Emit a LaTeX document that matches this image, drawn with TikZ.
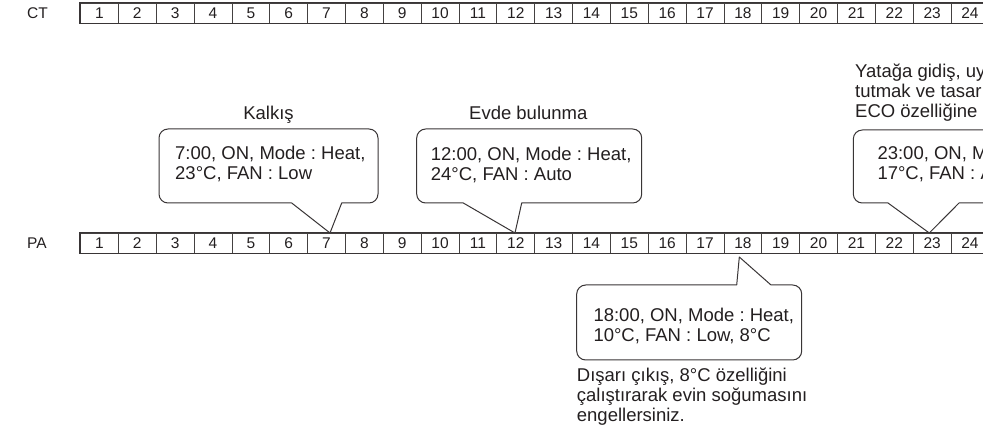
\documentclass[tikz,border=0pt]{standalone}
\usepackage{fontspec}
\setmainfont{Liberation Sans}
\usepackage{tikz}
\usetikzlibrary{positioning}
\usepackage{xcolor}
\definecolor{ink}{HTML}{231F20}
\frenchspacing
\tikzset{cellbox/.style={draw=ink!85,line width=.8pt,minimum width=37.85pt,minimum height=20pt,inner sep=0pt,font=\fontsize{15.5}{16}\selectfont,text=ink}, rowframe/.style={draw=ink!90,line width=1.4pt}, rowlabel/.style={anchor=west,inner sep=0pt,font=\fontsize{15.5}{16}\selectfont,text=ink},bubble/.style={draw=ink!90,line width=1pt,fill=white,line join=round},bubbletext/.style={anchor=base west,inner sep=0pt,align=left,font=\fontsize{18.5}{20}\selectfont,text=ink},title/.style={anchor=base,inner sep=0pt,font=\fontsize{18.5}{20}\selectfont,text=ink}}

\begin{document}
\begin{tikzpicture}[x=1pt,y=-1pt]
\useasboundingbox (0,0) rectangle (983,430);
\clip (0,0) rectangle (983,430);
% two hour rows
\foreach \i in {1,...,24}{
 \node[cellbox] (ct\i) at ({80.5+(\i-.5)*37.85},13) {\i};
 \node[cellbox] (pa\i) at ({80.5+(\i-.5)*37.85},243) {\i};
}
\draw[rowframe] (ct1.north west) rectangle (ct24.south east);
\draw[rowframe] (pa1.north west) rectangle (pa24.south east);
\node[rowlabel] (ct) at (27,13) {CT};
\node[rowlabel] (pa) at (27,243) {PA};
% bubbles above PA (text anchors sit on the last baseline)
\coordinate (tipA) at (330,233); \coordinate (tipB) at (515,233); \coordinate (tipC) at (929.3,233);
\draw[bubble] (tipA) -- (341.7,203) -- (360,203) [rounded corners=9pt] -- (378,203) -- (378,129) -- (159,129) -- (159,203) -- (225,203) [sharp corners] -- (291.7,203) -- cycle;
\draw[bubble] (tipB) -- (521.7,203) -- (580,203) [rounded corners=9pt] -- (641.7,203) -- (641.7,129) -- (416.7,129) -- (416.7,203) -- (440,203) [sharp corners] -- (463.3,203) -- cycle;
\draw[bubble] (tipC) -- (959,203) -- (1030,203) [rounded corners=9pt] -- (1100,203) -- (1100,130) -- (853.3,130) -- (853.3,203) -- (870,203) [sharp corners] -- (888,203) -- cycle;
\node[title] (kalkis) at (268.5,120) {Kalkış};
\node[title] (evde) at (528.3,120) {Evde bulunma};
\node[bubbletext] (heatA) at (175,180) {7:00, ON, Mode : Heat,\\23°C, FAN : Low};
\node[bubbletext] (heatB) at (430.7,180.5) {12:00, ON, Mode : Heat,\\24°C, FAN : Auto};
\node[bubbletext] (heatC) at (877.3,180) {23:00, ON, Mo\\17°C, FAN : A};
\node[bubbletext] (yatak) at (855,118) {Yatağa gidiş, uy\\tutmak ve tasarı\\ECO özelliğine g};
% bubble below PA
\coordinate (tipD) at (739.3,257);
\draw[bubble] (tipD) -- (771,285) -- (786,285) [rounded corners=9pt] -- (801.7,285) -- (801.7,360) -- (576.7,360) -- (576.7,285) -- (656,285) [sharp corners] -- (736.7,285) -- cycle;
\node[bubbletext] (heatD) at (593.3,341.7) {18:00, ON, Mode : Heat,\\10°C, FAN : Low, 8°C};
\node[bubbletext] (disari) at (576.7,421.7) {Dışarı çıkış, 8°C özelliğini\\çalıştırarak evin soğumasını\\engellersiniz.};
\end{tikzpicture}
\end{document}
